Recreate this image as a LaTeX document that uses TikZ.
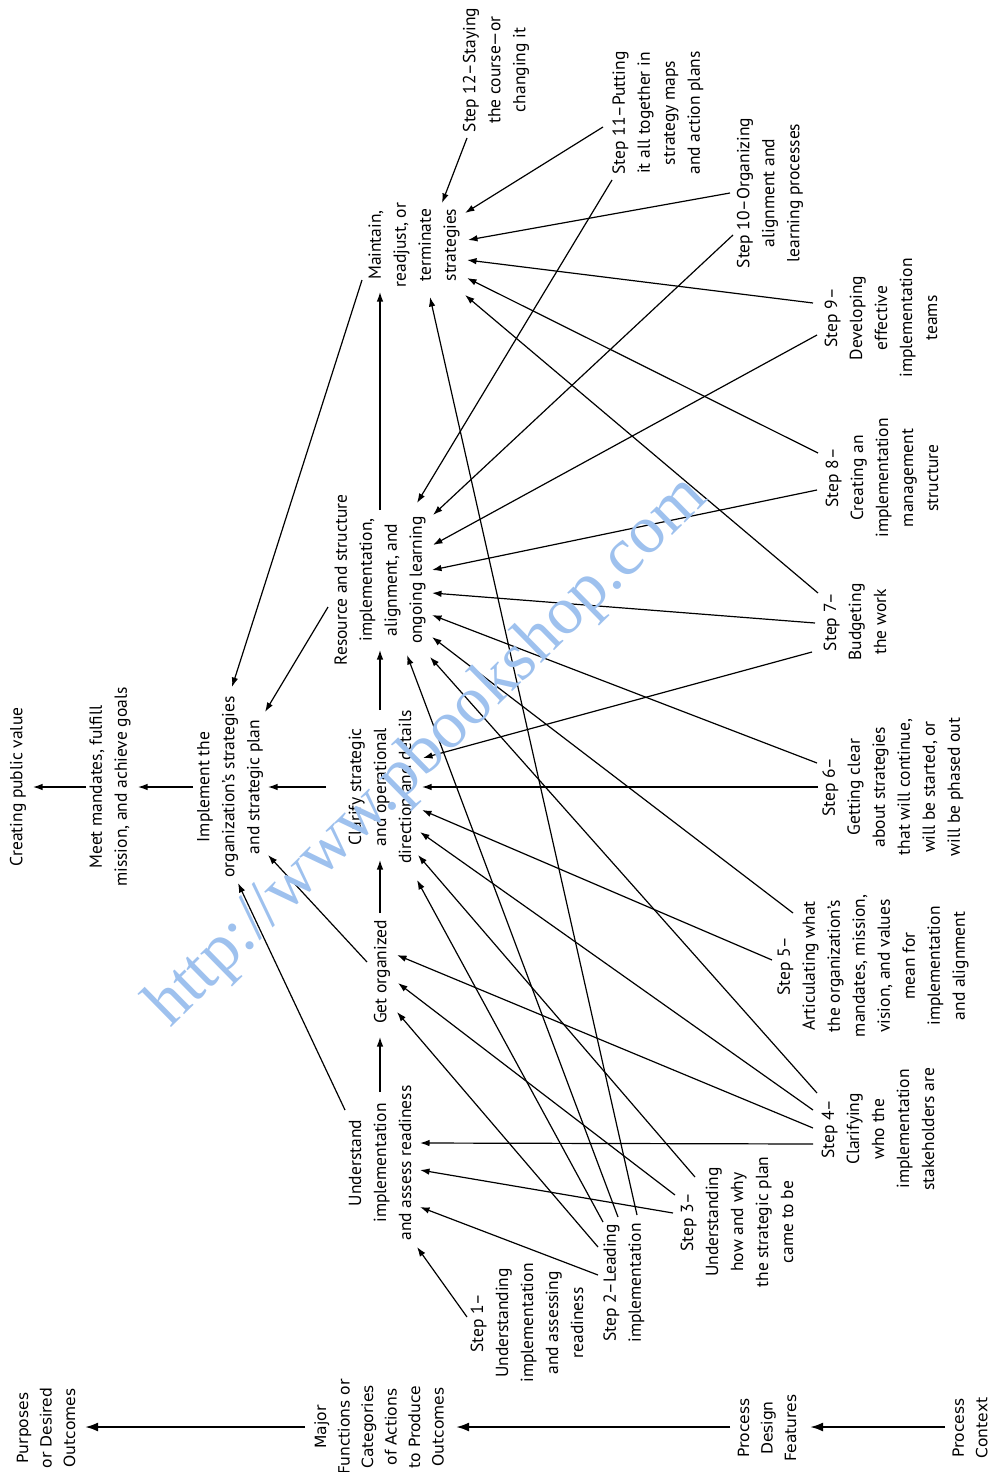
\documentclass[tikz,border=0pt]{standalone}
\usepackage{fontspec}
\newfontfamily\mainfnt{PT Sans}
\newfontfamily\botfnt{DejaVu Sans}
\newfontfamily\wmfnt{Liberation Serif}
\usetikzlibrary{arrows.meta}
\definecolor{wmblue}{RGB}{158,193,238}
\begin{document}
\begin{tikzpicture}[x=1pt,y=-1pt,
  lbl/.style={rotate=90,align=center,inner sep=0pt,font=\mainfnt\fontsize{17.5}{25}\selectfont},
  blbl/.style={rotate=90,align=center,inner sep=0pt,font=\botfnt\fontsize{15.5}{23.5}\selectfont},
  arr/.style={-{Latex[length=9.5pt,width=6.5pt]},line width=1.2pt},
  barr/.style={-{Latex[length=13pt,width=9pt]},line width=2.2pt},
]
\useasboundingbox (0,0) rectangle (995,1472);

% ---------- main column nodes
\node[lbl] (cpv) at (18,787) {Creating public value};
\node[lbl] (meet) at (110,787) {Meet mandates, fulfill\\mission, and achieve goals};
\node[lbl] (impl) at (230,787) {Implement the\\organization’s strategies\\and strategic plan};
\node[lbl] (und) at (380,1163) {Understand\\implementation\\and assess readiness};
\node[lbl] (getorg) at (382,972) {Get organized};
\node[lbl] (clar) at (380,787) {Clarify strategic\\and operational\\direction and details};
\node[lbl] (res) at (380,580) {Resource and structure\\implementation,\\alignment, and\\ongoing learning};
\node[lbl] (maint) at (414,245) {Maintain,\\readjust, or\\terminate\\strategies};

% ---------- steps
\node[lbl] (s1) at (527,1323) {Step 1–\\Understanding\\implementation\\and assessing\\readiness};
\node[lbl] (s2) at (624,1283) {Step 2–Leading\\implementation};
\node[lbl] (s3) at (737,1222) {Step 3–\\Understanding\\how and why\\the strategic plan\\came to be};
\node[lbl] (s4) at (878,1129) {Step 4–\\Clarifying\\who the\\implementation\\stakeholders are};
\node[lbl] (s5) at (873,966) {Step 5–\\Articulating what\\the organization’s\\mandates, mission,\\vision, and values\\mean for\\implementation\\and alignment};
\node[lbl] (s6) at (893,787) {Step 6–\\Getting clear\\about strategies\\that will continue,\\will be started, or\\will be phased out};
\node[lbl] (s7) at (855,622) {Step 7–\\Budgeting\\the work};
\node[lbl] (s8) at (882,478) {Step 8–\\Creating an\\implementation\\management\\structure};
\node[lbl] (s9) at (881,318) {Step 9–\\Developing\\effective\\implementation\\teams};
\node[lbl] (s10) at (770,193) {Step 10–Organizing\\alignment and\\learning processes};
\node[lbl] (s11) at (658,113) {Step 11–Putting\\it all together in\\strategy maps\\and action plans};
\node[lbl] (s12) at (496,70) {Step 12–Staying\\the course—or\\changing it};

% ---------- bottom legend
\node[blbl] (lpur) at (46,1428) {Purposes\\or Desired\\Outcomes};
\node[blbl] (lmaj) at (379,1427) {Major\\Functions or\\Categories\\of Actions\\to Produce\\Outcomes};
\node[blbl] (ldes) at (767,1428) {Process\\Design\\Features};
\node[blbl] (lctx) at (970,1428) {Process\\Context};

% ---------- ports
\coordinate (cpvR) at (33,787);   \coordinate (meetL) at (86,787);
\coordinate (meetR) at (138,787); \coordinate (implL) at (193,787);
\coordinate (implR) at (268,787); \coordinate (clarL) at (326,787);
\coordinate (implA) at (238,883); \coordinate (implB) at (268,855);
\coordinate (implC) at (265,712); \coordinate (implD) at (232,687);
\coordinate (undO) at (345,1110); \coordinate (undT) at (380,1092);
\coordinate (goB) at (380,1037);  \coordinate (goT) at (380,913);  \coordinate (goO) at (367,962);
\coordinate (clB) at (380,860);   \coordinate (clT) at (380,710);
\coordinate (reB) at (380,650);   \coordinate (reT) at (380,510);  \coordinate (reO) at (328,607);
\coordinate (mtB) at (380,292);   \coordinate (mtO) at (362,280);

% inputs Maintain
\coordinate (mt1) at (442,203); \coordinate (mt2) at (465,213); \coordinate (mt3) at (468,240);
\coordinate (mt4) at (467,260); \coordinate (mt5) at (467,278); \coordinate (mt6) at (465,295);
\coordinate (mt7) at (430,297);
% inputs Resource
\coordinate (re1) at (417,503); \coordinate (re2) at (433,515); \coordinate (re3) at (433,545);
\coordinate (re4) at (432,570); \coordinate (re5) at (432,593); \coordinate (re6) at (432,615);
\coordinate (re7) at (432,637); \coordinate (re8) at (430,657); \coordinate (re9) at (407,655);
% inputs Clarify
\coordinate (cl1) at (423,758); \coordinate (cl2) at (422,787); \coordinate (cl3) at (422,810);
\coordinate (cl4) at (420,832); \coordinate (cl5) at (418,855); \coordinate (cl6) at (417,880);
% inputs Get organized
\coordinate (go1) at (397,955); \coordinate (go2) at (398,983); \coordinate (go3) at (397,1012);
% inputs Understand
\coordinate (un1) at (420,1143); \coordinate (un2) at (420,1170); \coordinate (un3) at (420,1207);
\coordinate (un4) at (417,1247);

% step outputs
\coordinate (s12a) at (467,138);
\coordinate (s11a) at (603,127); \coordinate (s11b) at (612,180);
\coordinate (s10a) at (730,193); \coordinate (s10b) at (733,235);
\coordinate (s9a) at (813,303);  \coordinate (s9b) at (817,335);
\coordinate (s8a) at (818,453);  \coordinate (s8b) at (817,490);
\coordinate (s7a) at (818,593);  \coordinate (s7b) at (815,623); \coordinate (s7c) at (812,652);
\coordinate (s6a) at (817,763);  \coordinate (s6b) at (818,787);
\coordinate (s5a) at (793,913);  \coordinate (s5b) at (772,960);
\coordinate (s4a) at (817,1093); \coordinate (s4b) at (813,1110); \coordinate (s4c) at (813,1128); \coordinate (s4d) at (813,1144);
\coordinate (s3a) at (695,1177); \coordinate (s3b) at (675,1195); \coordinate (s3c) at (673,1213);
\coordinate (s2a) at (637,1215); \coordinate (s2b) at (618,1217); \coordinate (s2c) at (603,1222);
\coordinate (s2d) at (598,1247); \coordinate (s2e) at (598,1275);
\coordinate (s1a) at (467,1317);

% bottom ports
\coordinate (bpurR) at (85,1427);  \coordinate (bmajL) at (305,1427);
\coordinate (bmajR) at (456,1427); \coordinate (bdesL) at (730,1427);
\coordinate (bdesR) at (810,1427); \coordinate (bctxL) at (945,1427);

% ---------- connectors: main chain
\draw[arr] (meetL) -- (cpvR);
\draw[arr] (implL) -- (meetR);
\draw[arr] (clarL) -- (implR);
\draw[arr] (undT) -- (goB);
\draw[arr] (goT) -- (clB);
\draw[arr] (clT) -- (reB);
\draw[arr] (reT) -- (mtB);
\draw[arr] (undO) -- (implA);
\draw[arr] (goO) -- (implB);
\draw[arr] (reO) -- (implC);
\draw[arr] (mtO) -- (implD);

% ---------- connectors: steps
\draw[arr] (s12a) -- (mt1);
\draw[arr] (s11a) -- (mt2);
\draw[arr] (s11b) -- (re1);
\draw[arr] (s10a) -- (mt3);
\draw[arr] (s10b) -- (re2);
\draw[arr] (s9a) -- (mt4);
\draw[arr] (s9b) -- (re3);
\draw[arr] (s8a) -- (mt5);
\draw[arr] (s8b) -- (re4);
\draw[arr] (s7a) -- (mt6);
\draw[arr] (s7b) -- (re5);
\draw[arr] (s7c) -- (cl1);
\draw[arr] (s6a) -- (re6);
\draw[arr] (s6b) -- (cl2);
\draw[arr] (s5a) -- (re7);
\draw[arr] (s5b) -- (cl3);
\draw[arr] (s4a) -- (re8);
\draw[arr] (s4b) -- (cl4);
\draw[arr] (s4c) -- (go1);
\draw[arr] (s4d) -- (un1);
\draw[arr] (s3a) -- (cl5);
\draw[arr] (s3b) -- (go2);
\draw[arr] (s3c) -- (un2);
\draw[arr] (s2a) -- (mt7);
\draw[arr] (s2b) -- (re9);
\draw[arr] (s2c) -- (cl6);
\draw[arr] (s2d) -- (go3);
\draw[arr] (s2e) -- (un3);
\draw[arr] (s1a) -- (un4);

% ---------- bottom arrows
\draw[barr] (bmajL) -- (bpurR);
\draw[barr] (bdesL) -- (bmajR);
\draw[barr] (bctxL) -- (bdesR);

% ---------- watermark
\node[rotate=44.5,inner sep=0pt,text=wmblue,font=\wmfnt\fontsize{68}{68}\selectfont] (wm) at (428,752) {http://www.pbookshop.com};
\end{tikzpicture}
\end{document}
